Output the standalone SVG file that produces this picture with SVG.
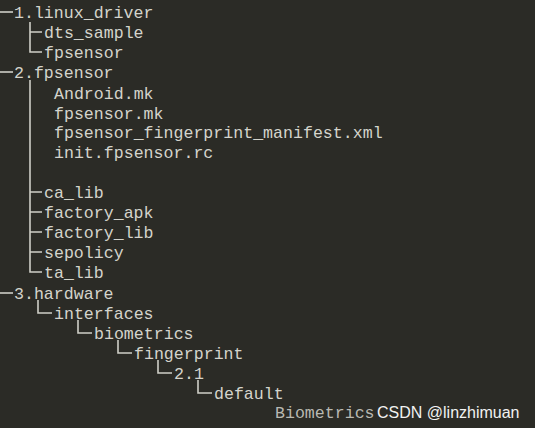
<svg xmlns="http://www.w3.org/2000/svg" width="535" height="428" viewBox="0 0 535 428">
<style>
.t{font-family:"Liberation Mono","DejaVu Sans Mono",monospace;font-size:16.6px;fill:#d4d4cc}
.l{stroke:#cfcfc7;stroke-width:1.6;fill:none}
.w{font-family:"Liberation Sans",Arial,sans-serif;font-size:16px;fill:#f2f2f2}
</style>
<rect width="535" height="428" fill="#2b2b26"/>
<g id="connectors">
<path class="l" d="M0 12H13"/>
<path class="l" d="M30 22V52H42M30 32H42"/>
<path class="l" d="M0 72H13"/>
<path class="l" d="M30 80V272H42M30 192H42M30 212H42M30 232H42M30 252H42"/>
<path class="l" d="M0 293H13"/>
<path class="l" d="M38 300V313H52"/>
<path class="l" d="M78 320V333H92"/>
<path class="l" d="M118 340V353H132"/>
<path class="l" d="M158 360V373H172"/>
<path class="l" d="M198 380V393H212"/>
</g>
<g id="n1"><text class="t" x="14" y="18">1.linux_driver</text></g>
<g id="n2"><text class="t" x="44" y="38">dts_sample</text></g>
<g id="n3"><text class="t" x="44" y="58">fpsensor</text></g>
<g id="n4"><text class="t" x="14" y="78">2.fpsensor</text></g>
<g id="n5"><text class="t" x="54" y="99">Android.mk</text></g>
<g id="n6"><text class="t" x="54" y="119">fpsensor.mk</text></g>
<g id="n7"><text class="t" x="54" y="138">fpsensor_fingerprint_manifest.xml</text></g>
<g id="n8"><text class="t" x="54" y="158">init.fpsensor.rc</text></g>
<g id="n9"><text class="t" x="44" y="198">ca_lib</text></g>
<g id="n10"><text class="t" x="44" y="218">factory_apk</text></g>
<g id="n11"><text class="t" x="44" y="238">factory_lib</text></g>
<g id="n12"><text class="t" x="44" y="258">sepolicy</text></g>
<g id="n13"><text class="t" x="44" y="278">ta_lib</text></g>
<g id="n14"><text class="t" x="14" y="299">3.hardware</text></g>
<g id="n15"><text class="t" x="54" y="319">interfaces</text></g>
<g id="n16"><text class="t" x="94" y="339">biometrics</text></g>
<g id="n17"><text class="t" x="134" y="359">fingerprint</text></g>
<g id="n18"><text class="t" x="174" y="379">2.1</text></g>
<g id="n19"><text class="t" x="214" y="399">default</text></g>
<g id="n20"><text class="t" x="275" y="418" fill-opacity="0.85">Biometrics</text></g>
<g id="watermark"><text class="w" x="377" y="418">CSDN @linzhimuan</text></g>
</svg>
